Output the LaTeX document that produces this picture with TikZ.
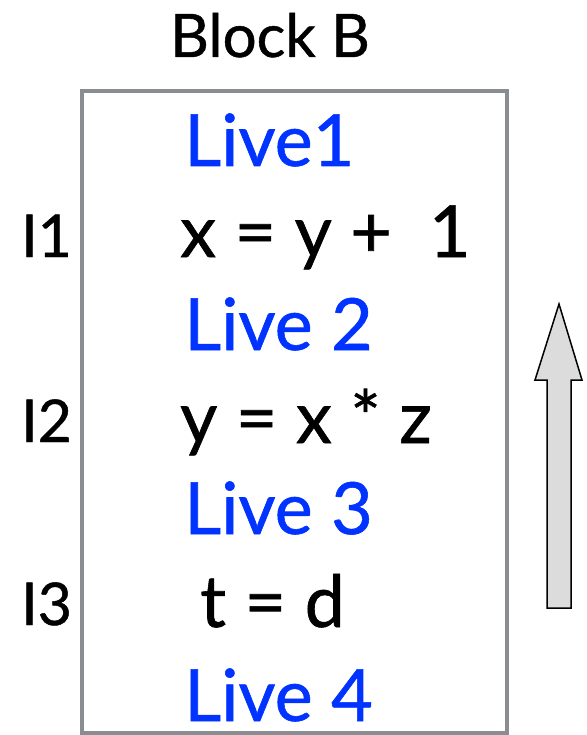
\documentclass[tikz,border=0pt]{standalone}
\usepackage{fontspec}
\setmainfont{Lato}
\newfontfamily\gfont{Lato}[FakeBold=0.8]
\definecolor{liveblue}{RGB}{0,51,255}
\definecolor{boxgray}{RGB}{137,140,144}
\definecolor{arrowfill}{RGB}{220,220,220}
\begin{document}
\begin{tikzpicture}[x=1pt,y=-1pt,
  txt/.style={anchor=base west,inner sep=0pt,font=\gfont\fontsize{72}{78}\selectfont},
  live/.style={txt,text=liveblue},
  code/.style={txt,text=black},
  lbl/.style={anchor=base west,inner sep=0pt,font=\gfont\fontsize{59}{64}\selectfont},
  ttl/.style={anchor=base west,inner sep=0pt,font=\gfont\fontsize{60}{64}\selectfont},
  blockbox/.style={draw=boxgray,line width=4.5pt},
  bigarrow/.style={draw=black,line width=1.5pt,fill=arrowfill,line join=miter}]
\useasboundingbox (0,0) rectangle (586,735);
\node[ttl] (title) at (170,57) {Block B};
\draw[blockbox] (82,91) rectangle (507,733);
\node[live] (l1) at (184,166) {Live1};
\node[code] (c1) at (180,257) {x = y +\ \ 1};
\node[live] (l2) at (184,350) {Live 2};
\node[code] (c2) at (180,443) {y = x * z};
\node[live] (l3) at (184,534) {Live 3};
\node[code] (c3) at (200,627) {t = d};
\node[live] (l4) at (184,721) {Live 4};
\node[lbl] (i1) at (21,257) {I1};
\node[lbl] (i2) at (21,442) {I2};
\node[lbl] (i3) at (21,625) {I3};
\draw[bigarrow] (547,608) -- (547,380) -- (535,380) -- (559,304) -- (582,380) -- (571,380) -- (571,608) -- cycle;
\end{tikzpicture}
\end{document}
